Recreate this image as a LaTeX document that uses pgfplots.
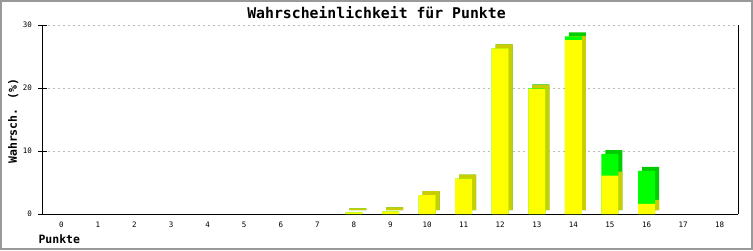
\documentclass[border=0pt]{standalone}
\usepackage{fontspec}
\setmainfont{DejaVu Sans Mono}
\usepackage{pgfplots}
\pgfplotsset{compat=1.18}
\definecolor{yfront}{HTML}{FFFF00}
\definecolor{yside}{HTML}{CCCC00}
\definecolor{gfront}{HTML}{00FF00}
\definecolor{gside}{HTML}{00CC00}
\definecolor{framec}{HTML}{999999}
\definecolor{gridc}{HTML}{BBBBBB}
\begin{document}
\begin{tikzpicture}
\useasboundingbox (0,0) rectangle (753pt,250pt);
\fill[white] (0,0) rectangle (753pt,250pt);
\draw[framec, line width=2pt] (1pt,1pt) rectangle (752pt,249pt);
\begin{axis}[
  at={(43pt,36pt)}, anchor=south west,
  scale only axis, width=695pt, height=189pt,
  xmin=-0.5, xmax=18.5, ymin=0, ymax=30,
  clip=false,
  axis lines*=left,
  axis line style={black, line width=1pt},
  xtick={0,...,18}, ytick={0,10,20,30},
  tick align=center, major tick length=9pt,
  xtick style={draw=none},
  ytick style={black, line width=1pt},
  ymajorgrids,
  grid style={gridc, dash pattern=on 2pt off 3pt, line width=1pt},
  /pgf/number format/assume math mode=true,
  ticklabel style={font=\fontsize{7.5}{9}\selectfont},
  yticklabel style={xshift=-3pt},
  title={Wahrscheinlichkeit für Punkte},
  title style={font=\fontsize{14.8}{17}\selectfont\bfseries, at={([xshift=-14pt,yshift=1pt]axis description cs:0.5,1)}, anchor=base},
  xlabel={Punkte},
  xlabel style={font=\fontsize{11.5}{14}\selectfont\bfseries, at={([xshift=-8pt,yshift=-29pt]axis description cs:0,0)}, anchor=base west},
  ylabel={Wahrsch. (\%)},
  ylabel style={font=\fontsize{11.5}{14}\selectfont\bfseries, at={([xshift=-26pt,yshift=-1.5pt]axis description cs:0,0.5)}, anchor=base},
]
% side/top faces (shadow), shifted right and up
\addplot[ybar, bar width=17pt, bar shift=4pt, yshift=4pt, fill=gside, draw=none]
  coordinates {(8,0.25) (9,0.4) (10,3.0) (11,5.6) (12,26.3) (13,19.95) (14,28.2) (15,9.5) (16,6.85)};
\addplot[ybar, bar width=17pt, bar shift=4pt, yshift=4pt, fill=yside, draw=none]
  coordinates {(8,0.25) (9,0.4) (10,3.0) (11,5.6) (12,26.3) (13,19.85) (14,27.6) (15,6.1) (16,1.6)};
% front faces
\addplot[ybar, bar width=17pt, bar shift=0pt, fill=gfront, draw=none]
  coordinates {(8,0.25) (9,0.4) (10,3.0) (11,5.6) (12,26.3) (13,19.95) (14,28.2) (15,9.5) (16,6.85)};
\addplot[ybar, bar width=17pt, bar shift=0pt, fill=yfront, draw=none]
  coordinates {(8,0.25) (9,0.4) (10,3.0) (11,5.6) (12,26.3) (13,19.85) (14,27.6) (15,6.1) (16,1.6)};
\draw[black, line width=1pt] (rel axis cs:1,0) -- (rel axis cs:1,1);
\end{axis}
\end{tikzpicture}
\end{document}
